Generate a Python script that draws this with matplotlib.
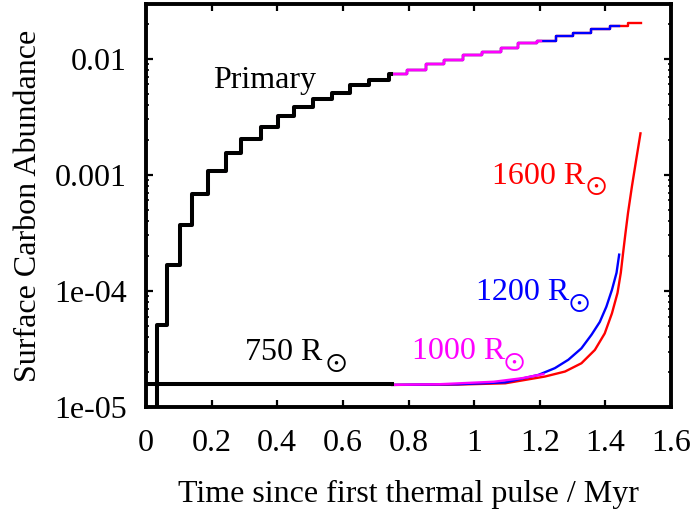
import numpy as np
import matplotlib
matplotlib.use("Agg")
import matplotlib.pyplot as plt
from matplotlib.ticker import FixedLocator, LogLocator, NullFormatter

plt.rcParams["font.family"] = ["Liberation Serif", "DejaVu Serif"]
plt.rcParams["mathtext.fontset"] = "stix"

# primary: step times (Myr) and surface C abundance after each step
step_t = [0.0, 0.032, 0.063, 0.103, 0.141, 0.188, 0.243, 0.291, 0.349, 0.401, 0.452,
          0.510, 0.567, 0.622, 0.680, 0.741, 0.795, 0.853, 0.908, 0.966, 1.023,
          1.081, 1.135, 1.193, 1.248, 1.302, 1.357, 1.414, 1.469]
step_c = [1e-6, 5.1e-5, 1.67e-4, 3.7e-4, 6.8e-4, 1.07e-3, 1.55e-3, 2.04e-3, 2.58e-3,
          3.2e-3, 3.8e-3, 4.5e-3, 5.1e-3, 5.9e-3, 6.6e-3, 7.3e-3, 8.0e-3, 8.9e-3,
          9.8e-3, 1.07e-2, 1.15e-2, 1.24e-2, 1.35e-2, 1.43e-2, 1.55e-2, 1.66e-2,
          1.78e-2, 1.9e-2, 2.04e-2]

# secondary (accretor) surface carbon, one curve per radius
t_750 = [0.0, 0.75]
c_750 = [1.58e-5, 1.58e-5]
t_1000 = [0.75, 0.892, 1.06, 1.146, 1.211]
c_1000 = [1.55e-5, 1.57e-5, 1.65e-5, 1.77e-5, 1.92e-5]
t_1200 = [0.75, 0.95, 1.095, 1.196, 1.246, 1.287, 1.327, 1.358, 1.383, 1.403, 1.420,
          1.434, 1.442]
c_1200 = [1.55e-5, 1.57e-5, 1.63e-5, 1.89e-5, 2.16e-5, 2.55e-5, 3.2e-5, 4.2e-5,
          5.4e-5, 7.3e-5, 1.02e-4, 1.43e-4, 2.05e-4]
t_1600 = [0.75, 0.95, 1.095, 1.216, 1.277, 1.327, 1.368, 1.398, 1.420, 1.437, 1.447,
          1.454, 1.461, 1.469, 1.481, 1.494, 1.507]
c_1600 = [1.55e-5, 1.56e-5, 1.6e-5, 1.83e-5, 2.02e-5, 2.38e-5, 3.1e-5, 4.3e-5, 6.4e-5,
          9.6e-5, 1.43e-4, 2.12e-4, 3.1e-4, 4.69e-4, 7.96e-4, 1.35e-3, 2.27e-3]

models = ["1600", "1200", "1000", "750"]
colors = {"750": "black", "1000": "magenta", "1200": "blue", "1600": "red"}
t_end = {"750": 0.748, "1000": 1.205, "1200": 1.44, "1600": 1.508}
sec = {"750": (t_750, c_750), "1000": (t_1000, c_1000),
       "1200": (t_1200, c_1200), "1600": (t_1600, c_1600)}

# label anchors: text start (t, value) and the sun symbol centre (t, value)
label_pos = {"750": (0.303, 2.54e-5), "1000": (0.81, 2.6e-5),
             "1200": (1.005, 8.4e-5), "1600": (1.053, 8.4e-4)}
sun_pos = {"750": (0.578, 2.35e-5), "1000": (1.121, 2.4e-5),
           "1200": (1.319, 7.8e-5), "1600": (1.370, 7.9e-4)}

fig = plt.figure(figsize=(6.96, 5.09), dpi=100)
ax = fig.add_axes([146 / 696, 102 / 509, 525 / 696, 403 / 509])

for m in models:
    lw = 2.9 if m == "750" else 1.7
    ts = np.array(step_t)
    cs = np.array(step_c)
    keep = ts < t_end[m]
    tt = np.append(ts[keep], t_end[m])
    cc = np.append(cs[keep], cs[keep][-1])
    ax.step(tt, cc, where="post", color=colors[m], lw=lw)
    ax.plot(sec[m][0], sec[m][1], color=colors[m], lw=lw)

ax.set_yscale("log")
ax.set_xlim(0, 1.6)
ax.set_ylim(1e-5, 0.0295)

ax.set_xticks(np.arange(0, 1.61, 0.2))
ax.set_xticklabels(["0", "0.2", "0.4", "0.6", "0.8", "1", "1.2", "1.4", "1.6"])
ax.yaxis.set_major_locator(FixedLocator([1e-5, 1e-4, 1e-3, 1e-2]))
ax.set_yticklabels(["1e-05", "1e-04", "0.001", "0.01"])
ax.yaxis.set_minor_locator(LogLocator(base=10, subs=np.arange(2, 10)))
ax.yaxis.set_minor_formatter(NullFormatter())

ax.tick_params(which="major", direction="in", top=True, right=True,
               length=5, width=1.6, labelsize=23)
ax.tick_params(which="minor", direction="in", top=True, right=True,
               length=2.5, width=1.2)
ax.tick_params(axis="x", which="major", pad=16)
ax.tick_params(axis="y", which="major", pad=14)
for s in ax.spines.values():
    s.set_linewidth(2.8)

ax.set_xlabel("Time since first thermal pulse / Myr", fontsize=23, labelpad=16)
ax.set_ylabel("Surface Carbon Abundance", fontsize=23, labelpad=8)

ax.text(0.203, 5.55e-3, "Primary", fontsize=23, color="black")
for m in models:
    ax.text(label_pos[m][0], label_pos[m][1], m + " R", fontsize=23, color=colors[m])
    ax.text(sun_pos[m][0], sun_pos[m][1], r"$\odot$", fontsize=20, color=colors[m],
            ha="center", va="center")

fig.savefig("out.png", dpi=100)
